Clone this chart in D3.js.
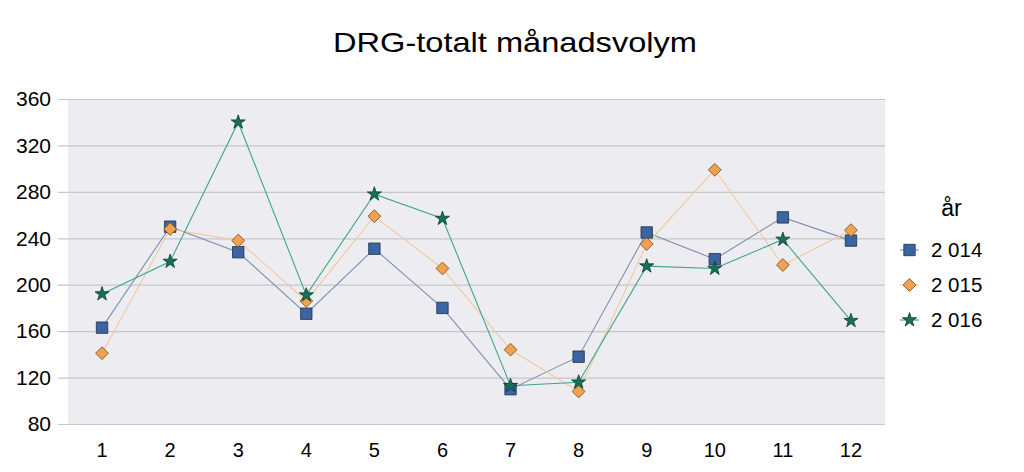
<!DOCTYPE html>
<html>
<head>
<meta charset="utf-8">
<script src="https://cdn.jsdelivr.net/npm/d3@7"></script>
<style>
  html, body { margin: 0; padding: 0; background: #fff; }
  svg { display: block; font-family: "Liberation Sans", Arial, sans-serif; }
</style>
</head>
<body>
<svg id="chart" width="1024" height="472"></svg>
<script>
const title = "DRG-totalt månadsvolym";
const legendTitle = "år";
const months = [1, 2, 3, 4, 5, 6, 7, 8, 9, 10, 11, 12];
const yTicks = [80, 120, 160, 200, 240, 280, 320, 360];
const seriesNames = ["2 014", "2 015", "2 016"];
const values2014 = [163, 250, 228, 175, 231, 180, 110, 138, 245, 222, 258, 238];
const values2015 = [141, 248, 238, 186, 259, 214, 144, 108, 235, 299, 217, 247];
const values2016 = [192, 220, 340, 191, 278, 257, 113, 116, 216, 214, 239, 169];

const series = [
  { name: seriesNames[0], values: values2014, symbol: d3.symbolSquare, size: 130, rot: 0, fill: "#3a64a2", stroke: "#1f2f4a", line: "#7f90ae" },
  { name: seriesNames[1], values: values2015, symbol: d3.symbolSquare, size: 82, rot: 45, fill: "#f2a24e", stroke: "#7a5020", line: "#f3c8a0" },
  { name: seriesNames[2], values: values2016, symbol: d3.symbolStar, size: 62, rot: 0, fill: "#17705a", stroke: "#0b3a2e", line: "#3ea68c" }
];

const svg = d3.select("#chart");
const plot = { left: 68, right: 885, top: 99, bottom: 424 };

const x = d3.scaleBand().domain(months).range([plot.left, plot.right]).padding(0);
const y = d3.scaleLinear().domain([80, 360]).range([plot.bottom, plot.top]);
const cx = d => x(d) + x.bandwidth() / 2;

// background
svg.append("rect")
  .attr("x", plot.left).attr("y", plot.top)
  .attr("width", plot.right - plot.left).attr("height", plot.bottom - plot.top)
  .attr("fill", "#ececf1");

// grid + y axis
const yAxis = d3.axisLeft(y).tickValues(yTicks).tickSize(plot.right - 58).tickPadding(7);
const gy = svg.append("g").attr("transform", `translate(${plot.right},0)`).call(yAxis);
gy.select(".domain").remove();
gy.selectAll(".tick line").attr("stroke", "#c6c6cb").attr("stroke-width", 1.2);
gy.selectAll(".tick text").attr("fill", "#000").attr("font-size", 21)
  .attr("font-family", "Liberation Sans, Arial, sans-serif");

// x axis
const xAxis = d3.axisBottom(x).tickSize(0).tickPadding(19);
const gx = svg.append("g").attr("transform", `translate(0,${plot.bottom})`).call(xAxis);
gx.select(".domain").remove();
gx.selectAll(".tick text").attr("fill", "#000").attr("font-size", 20)
  .attr("font-family", "Liberation Sans, Arial, sans-serif");

// lines
const line = d3.line().x((d, i) => cx(months[i])).y(d => y(d));
series.forEach(s => {
  svg.append("path").datum(s.values)
    .attr("d", line)
    .attr("fill", "none")
    .attr("stroke", s.line)
    .attr("stroke-width", 1.1);
});

// markers
series.forEach(s => {
  svg.append("g").selectAll("path").data(s.values).join("path")
    .attr("d", d3.symbol().type(s.symbol).size(s.size))
    .attr("transform", (d, i) => `translate(${cx(months[i])},${y(d)}) rotate(${s.rot})`)
    .attr("fill", s.fill)
    .attr("stroke", s.stroke)
    .attr("stroke-width", 0.8);
});

// title
svg.append("text")
  .attr("x", 333).attr("y", 52)
  .attr("font-size", 28)
  .attr("textLength", 364)
  .attr("lengthAdjust", "spacingAndGlyphs")
  .attr("fill", "#000")
  .text(title);

// legend
const lg = svg.append("g");
lg.append("text").attr("x", 951.5).attr("y", 216).attr("text-anchor", "middle")
  .attr("font-size", 23).attr("fill", "#000").text(legendTitle);
const rowsY = [250, 285, 320];
series.forEach((s, i) => {
  const ry = rowsY[i];
  lg.append("line").attr("x1", 900).attr("x2", 919).attr("y1", ry).attr("y2", ry)
    .attr("stroke", s.line).attr("stroke-width", 1.1);
  lg.append("path").attr("d", d3.symbol().type(s.symbol).size(s.size))
    .attr("transform", `translate(909.5,${ry}) rotate(${s.rot})`)
    .attr("fill", s.fill).attr("stroke", s.stroke).attr("stroke-width", 0.8);
  lg.append("text").attr("x", 931).attr("y", ry + 7)
    .attr("font-size", 20.5).attr("fill", "#000").text(s.name);
});
</script>
</body>
</html>
